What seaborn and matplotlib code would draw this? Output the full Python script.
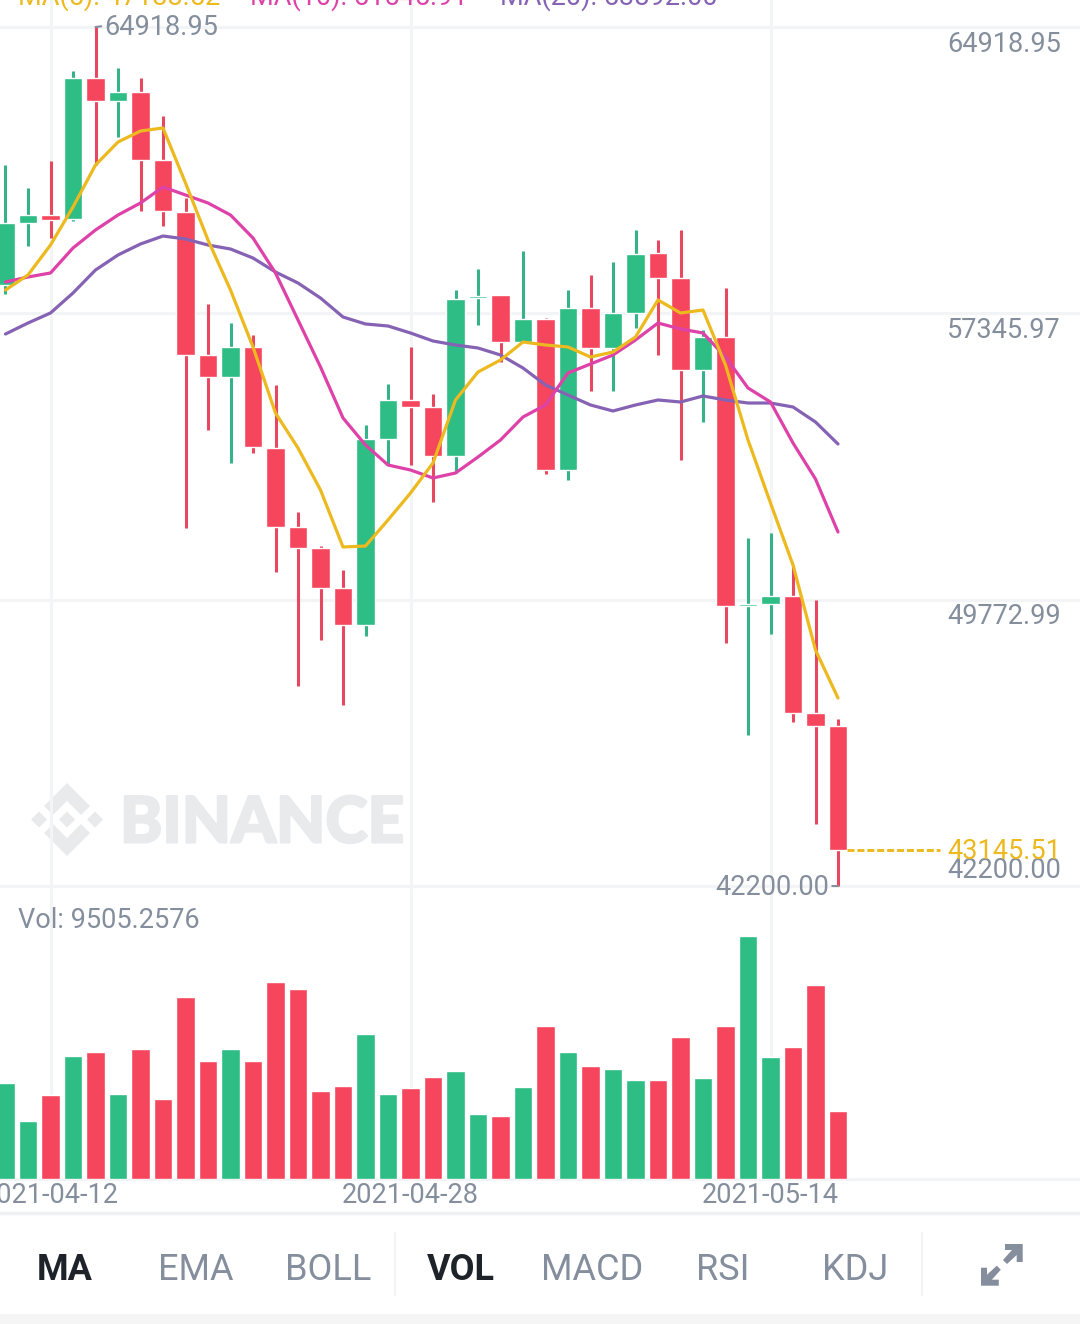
import numpy as np
import pandas as pd
import seaborn as sns
import matplotlib.pyplot as plt
import matplotlib.patheffects as pe
from matplotlib.patches import Polygon

# daily candles
open_price = [58095, 59735, 59947, 59841, 63570, 62962, 63200, 61401, 60026, 56244,
              55662, 56456, 53784, 51695, 51139, 50082, 49103, 54022, 55054, 54869,
              53573, 57751, 57831, 56588, 57196, 53202, 57487, 56429, 57355, 58942,
              58280, 55847, 56720, 49606, 49658, 49870, 46776, 46432]
close_price = [59735, 59947, 59814, 63570, 62962, 63200, 61401, 60052, 56244, 55662,
               56456, 53811, 51695, 51139, 50082, 49103, 54022, 55054, 54869, 53573,
               57725, 57804, 56588, 57196, 53202, 57487, 56429, 57355, 58915, 58280,
               55847, 56720, 49606, 49658, 49870, 46776, 46432, 43145.51]
high_price = [61269, 60661, 61375, 63755, 64918.95, 63835, 63570, 62565, 60396, 57593,
              57090, 56773, 55451, 52092, 51192, 50558, 54393, 55477, 56456, 55212,
              57963, 58518, 57831, 58995, 57223, 57963, 58360, 58704, 59550, 59285,
              59550, 56905, 58016, 51404, 51536, 50690, 49764, 46617]
low_price = [57857, 59127, 59338, 59788, 61269, 62010, 60052, 59656, 51668, 54260,
             53388, 53652, 50505, 47490, 48706, 46987, 48812, 53335, 53335, 52356,
             53123, 57037, 56059, 56588, 53097, 52938, 55292, 55292, 56958, 56244,
             53467, 54472, 48627, 46194, 48865, 46538, 43840, 42200]
volume = [13478, 8143, 11794, 17227, 17789, 11934, 18210, 11190, 25511, 16567,
          18252, 16567, 27659, 26634, 12355, 13015, 20316, 11892, 12776, 14321,
          15163, 9126, 8845, 12959, 21523, 17831, 15907, 15444, 13900, 13900,
          19937, 14180, 21439, 34117, 17129, 18533, 27195, 9505.2576]

ma5 = [57963, 58360, 59153, 60158, 61269, 61877, 62168, 62248, 60793, 59285,
       57963, 56456, 54710, 53784, 52673, 51166, 51192, 51880, 52594, 53388,
       55054, 55794, 56112, 56588, 56508, 56456, 56191, 56323, 56720, 57699,
       57355, 57434, 55979, 53996, 52330, 50690, 48442, 47172]
ma10 = [58175, 58307, 58413, 59074, 59550, 59947, 60264, 60687, 60476, 60264,
        59947, 59338, 58413, 57170, 55927, 54578, 53864, 53335, 53202, 52991,
        53123, 53546, 53996, 54604, 54922, 55768, 56006, 56244, 56641, 57090,
        56932, 56826, 56191, 55371, 55001, 53917, 52964, 51563]
ma20 = [56799, 57090, 57355, 57884, 58492, 58889, 59180, 59391, 59312, 59153,
        59047, 58809, 58439, 58148, 57751, 57249, 57064, 57011, 56826, 56614,
        56508, 56429, 56244, 55900, 55451, 55186, 54922, 54763, 54922, 55054,
        55001, 55160, 55054, 54974, 54974, 54869, 54472, 53890]

price_levels = [64918.95, 57345.97, 49772.99, 42200.00]
date_ticks = [2, 18, 34]
date_labels = ["2021-04-12", "2021-04-28", "2021-05-14"]
ma_labels = ["MA(5): 47188.52", "MA(10): 51545.91", "MA(20): 53892.00"]
menu_left = ["MA", "EMA", "BOLL"]
menu_right = ["VOL", "MACD", "RSI", "KDJ"]

RED = "#f6465d"
GREEN = "#2ebd85"
RED_WICK = "#e8485f"
GREEN_WICK = "#35b287"
GRID = "#f3f4f6"
GRAY = "#848e9c"
DARK = "#1e2329"
YELLOW = "#ecb91f"
PINK = "#de42a8"
PURPLE = "#8562b4"
MARK = "#e8eaec"

sns.set_theme(style="white")
plt.rcParams["font.family"] = ["Roboto", "DejaVu Sans"]

W, H = 1080, 1324
fig = plt.figure(figsize=(W / 100, H / 100), dpi=100, facecolor="white")


def px_axes(top, bottom):
    return fig.add_axes([0, 1 - bottom / H, 1, (bottom - top) / H])


# page furniture in pixel coordinates
bg = fig.add_axes([0, 0, 1, 1], zorder=0)
bg.set_xlim(0, W)
bg.set_ylim(H, 0)
bg.axis("off")
bg.add_patch(plt.Rectangle((0, 1314), W, 10, color="#f5f5f5", lw=0))
bg.plot([0, W], [1213, 1213], color="#f0f1f2", lw=2.5)
for x in [395, 922]:
    bg.plot([x, x], [1233, 1295], color=GRID, lw=1.5)

# watermark
bg.add_patch(Polygon([(67, 783), (90, 806), (81, 815), (67, 801), (53, 815), (44, 806)], color=MARK, lw=0))
bg.add_patch(Polygon([(67, 856), (90, 833), (81, 824), (67, 838), (53, 824), (44, 833)], color=MARK, lw=0))
for cx in [39, 67, 95]:
    bg.add_patch(Polygon([(cx - 8, 819.5), (cx, 811.5), (cx + 8, 819.5), (cx, 827.5)], color=MARK, lw=0))
bg.text(120, 824, "BINANCE", color=MARK, fontsize=46, fontweight=900, family="Lato", va="center", ha="left",
        path_effects=[pe.withStroke(linewidth=1.6, foreground=MARK)])

# bottom menu
for label, x in zip(menu_left, [65, 196, 328]):
    bg.text(x, 1270, label, ha="center", va="center", fontsize=26,
            color=DARK if label == "MA" else GRAY, fontweight="bold" if label == "MA" else "normal")
for label, x in zip(menu_right, [461, 592, 723, 855]):
    bg.text(x, 1270, label, ha="center", va="center", fontsize=26,
            color=DARK if label == "VOL" else GRAY, fontweight="bold" if label == "VOL" else "normal")

# expand icon
bg.add_patch(Polygon([(1005, 1244), (1022.7, 1244), (1022.7, 1262), (1016.7, 1262), (1016.7, 1255),
                      (1007, 1264), (1003, 1260), (1012, 1250), (1005, 1250)], color=GRAY, lw=0))
bg.add_patch(Polygon([(998.8, 1285.7), (981, 1285.7), (981, 1267.7), (987, 1267.7), (987, 1274.7),
                      (996.8, 1265.7), (1000.8, 1269.7), (991.8, 1279.7), (998.8, 1279.7)], color=GRAY, lw=0))

candles = pd.DataFrame({"open": open_price, "close": close_price, "high": high_price,
                        "low": low_price, "volume": volume})
candles["day"] = np.arange(len(candles))
candles["side"] = np.where(candles["close"] >= candles["open"], "up", "down")
side_colors = {"up": GREEN, "down": RED}
wick_colors = {"up": GREEN_WICK, "down": RED_WICK}

# same x scale for both panels: one candle is 22.5 px, the first one sits at x=5.5
x_range = (-5.5 / 22.5, (W - 5.5) / 22.5)

ax = px_axes(0, 886)
ax.set_facecolor("none")
ax.set_zorder(2)
ax.set_xlim(*x_range)
ax.set_ylim(42200, 65633)

body_low = candles[["open", "close"]].min(axis=1)
body_high = candles[["open", "close"]].max(axis=1)
ax.vlines(candles["day"], candles["low"], candles["high"], colors=candles["side"].map(wick_colors),
          lw=2.2, zorder=2, clip_on=False)
ax.bar(candles["day"], body_high - body_low, bottom=body_low, width=0.82,
       color=candles["side"].map(side_colors), zorder=3)

sns.lineplot(x=candles["day"], y=ma20, ax=ax, color=PURPLE, linewidth=2.3, zorder=4)
sns.lineplot(x=candles["day"], y=ma10, ax=ax, color=PINK, linewidth=2.3, zorder=5)
sns.lineplot(x=candles["day"], y=ma5, ax=ax, color=YELLOW, linewidth=2.3, zorder=6)

ax.set_xlabel("")
ax.set_ylabel("")
ax.set_xticks(date_ticks)
ax.set_yticks(price_levels)
ax.set_xticklabels([])
ax.set_yticklabels([])
ax.tick_params(length=0)
ax.grid(True, color=GRID, lw=2.2)
ax.set_axisbelow(True)
sns.despine(ax=ax, left=True, bottom=True, top=True, right=True)

# right-hand price scale
label_x = (1061 - 5.5) / 22.5
for level in price_levels[:3]:
    ax.annotate(f"{level:.2f}", (label_x, level), xytext=(0, -12.3), textcoords="offset points",
                ha="right", va="center", fontsize=19.5, color=GRAY)
ax.annotate(f"{price_levels[3]:.2f}", (label_x, price_levels[3]), xytext=(0, 11.5), textcoords="offset points",
            ha="right", va="center", fontsize=19.5, color=GRAY, zorder=7)
last_close = close_price[-1]
ax.annotate(f"{last_close:.2f}", (label_x, last_close), xytext=(0, -1.2), textcoords="offset points",
            ha="right", va="center", fontsize=19.5, color=YELLOW, zorder=8)
ax.plot([37.4, (940 - 5.5) / 22.5], [last_close, last_close], color=YELLOW, lw=2.1, ls=(0, (2.4, 1)), zorder=6)

# high / low markers on the chart
ax.annotate(f"{max(high_price):.2f}", xy=(4, max(high_price)), xytext=(6.5, -0.2), textcoords="offset points",
            ha="left", va="center", fontsize=19.5, color=GRAY,
            arrowprops=dict(arrowstyle="-", color=GRAY, lw=1.5, shrinkA=0, shrinkB=0, relpos=(0, 0.55)))
ax.annotate(f"{min(low_price):.2f}", xy=(37, min(low_price)), xytext=(-6.5, -1), textcoords="offset points",
            ha="right", va="center", fontsize=19.5, color=GRAY,
            arrowprops=dict(arrowstyle="-", color=GRAY, lw=1.5, shrinkA=0, shrinkB=0, relpos=(1, 0.55)))

# moving average legend, cut off by the top of the screenshot
for label, x, color in zip(ma_labels, [18, 250, 500], [YELLOW, PINK, PURPLE]):
    ax.text(x / W, 1 + 3 / 886, label, transform=ax.transAxes, fontsize=19.5, color=color, va="center")

# volume panel
vol_ax = px_axes(886, 1179)
vol_ax.set_facecolor("none")
vol_ax.set_zorder(1)
sns.barplot(data=candles, x="day", y="volume", hue="side", palette=side_colors, dodge=False,
            native_scale=True, width=0.82, legend=False, saturation=1, ax=vol_ax, zorder=3)
vol_ax.set_xlim(*x_range)
vol_ax.set_ylim(0, 41137)
vol_ax.set_xlabel("")
vol_ax.set_ylabel("")
vol_ax.set_yticks([])
vol_ax.set_xticks(date_ticks)
vol_ax.set_xticklabels(date_labels, fontsize=19.5, color=GRAY)
vol_ax.tick_params(axis="x", length=0, pad=2)
vol_ax.grid(True, axis="x", color=GRID, lw=2.2)
vol_ax.set_axisbelow(True)
sns.despine(ax=vol_ax, left=True, right=True)
for side in ["top", "bottom"]:
    vol_ax.spines[side].set_visible(True)
    vol_ax.spines[side].set_color(GRID)
    vol_ax.spines[side].set_linewidth(2.2)
vol_ax.text(18 / W, 1 - (920 - 886) / (1179 - 886), f"Vol: {volume[-1]:.4f}", transform=vol_ax.transAxes,
            fontsize=19.5, color=GRAY, va="center", ha="left")

fig.savefig("out.png", dpi=100)
